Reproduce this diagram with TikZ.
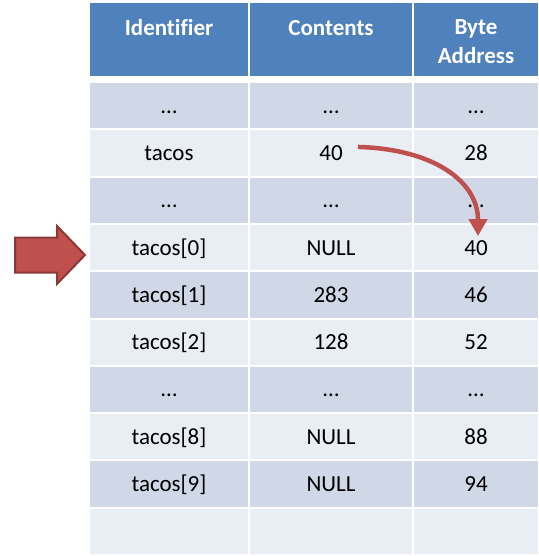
\documentclass[tikz,border=0pt]{standalone}
\usepackage{fontspec}
\setmainfont{Carlito}[Ligatures=NoCommon]
\usetikzlibrary{arrows.meta,calc}
\definecolor{hdr}{HTML}{4F81BD}
\definecolor{rowdark}{HTML}{D0D8E8}
\definecolor{rowlight}{HTML}{E9EDF4}
\definecolor{arrred}{HTML}{C0504D}
\definecolor{arrdark}{HTML}{8C3836}
\begin{document}
\begin{tikzpicture}[x=1pt,y=-1pt,
  cellbase/.style={rectangle,inner sep=0pt,outer sep=0pt,minimum height=45.3pt,
     font=\fontsize{23}{28}\selectfont,text=black,text height=20pt,text depth=5pt},
  wA/.style={minimum width=158pt},
  wB/.style={minimum width=162pt},
  wC/.style={minimum width=124pt},
  dk/.style={cellbase,fill=rowdark},
  lt/.style={cellbase,fill=rowlight},
  hcell/.style={rectangle,inner sep=0pt,outer sep=0pt,fill=hdr,minimum height=73pt},
  htext/.style={inner sep=0pt,text=white,font=\fontsize{23}{29}\selectfont\bfseries,align=center},
  bigarrow/.style={fill=arrred,draw=arrdark,line width=2pt,line join=miter}
]
\useasboundingbox (0,0) rectangle (538,556);
% header
\node[hcell,minimum width=158pt] (h1) at (169,39.5) {};
\node[hcell,minimum width=162pt] (h2) at (331,39.5) {};
\node[hcell,minimum width=124pt] (h3) at (476,39.5) {};
\node[htext] (ht1) at (169,28) {Identifier};
\node[htext] (ht2) at (331,28) {Contents};
\node[htext] (ht3) at (476,42) {Byte\\Address};
% rows
\foreach \i/\s/\a/\b/\c in {
  1/dk/…/…/…,
  2/lt/tacos/40/28,
  3/dk/…/…/…,
  4/lt/tacos[0]/NULL/40,
  5/dk/tacos[1]/283/46,
  6/lt/tacos[2]/128/52,
  7/dk/…/…/…,
  8/lt/tacos[8]/NULL/88,
  9/dk/tacos[9]/NULL/94,
  10/lt/ / / }{
  \pgfmathsetmacro{\yy}{83+(\i-1)*47.3+22.65}
  \node[\s,wA] (r\i c1) at (169,\yy) {\a};
  \node[\s,wB] (r\i c2) at (331,\yy) {\b};
  \node[\s,wC] (r\i c3) at (476,\yy) {\c};
}
% curved pointer arrow
\coordinate (pstart) at ([xshift=27pt,yshift=6pt]r2c2.center);
\coordinate (pend) at ([xshift=2pt,yshift=11.5pt]r4c3.center);
\draw[arrred,line width=4.5pt,-{Triangle[length=17pt 0,width=18pt 0]}]
  (pstart) .. controls +(75,2) and +(0,-55) .. (pend);
% block arrow
\draw[bigarrow] (15,237.5) -- (57,237.5) -- (57,226) -- (85,255) -- (57,284) -- (57,272.5) -- (15,272.5) -- cycle;
\end{tikzpicture}
\end{document}
